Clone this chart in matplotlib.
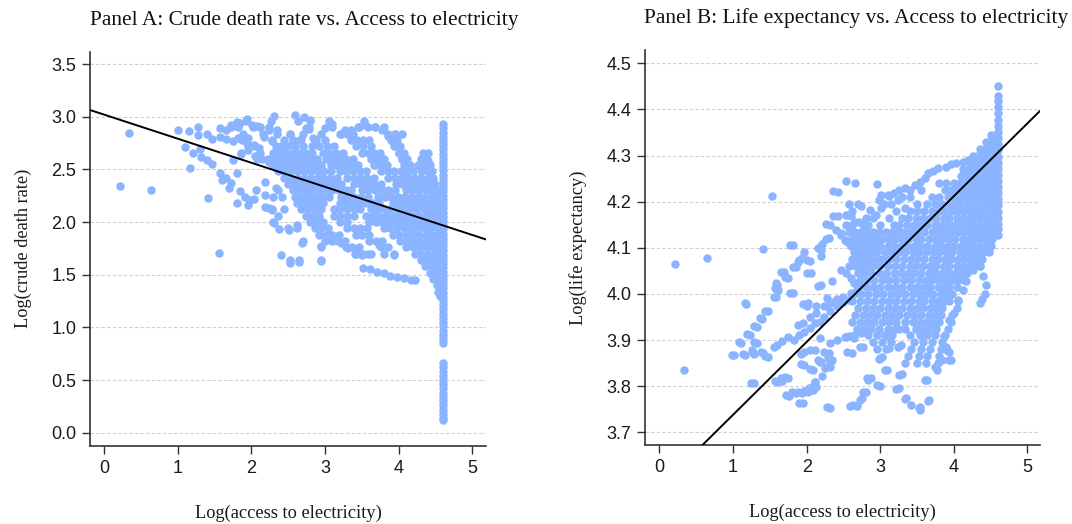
import matplotlib
matplotlib.use("Agg")
import matplotlib.pyplot as plt

# ---------------- DATA ----------------
# Panel A: log(access to electricity) vs log(crude death rate)
a_sparse = [
    (0.34, 2.85), (0.21, 2.34), (0.64, 2.30), (1.56, 1.71), (1.41, 2.23), (1.17, 2.51), (1.00, 2.87),
    (1.10, 2.71), (1.15, 2.86), (1.27, 2.90), (1.27, 2.83), (1.40, 2.84), (1.46, 2.79), (1.21, 2.66),
    (1.31, 2.69), (1.32, 2.62), (1.40, 2.59), (1.47, 2.55), (1.58, 2.89), (1.66, 2.87), (1.73, 2.92),
    (1.80, 2.95), (1.85, 2.94), (1.94, 2.98), (2.01, 2.92), (2.08, 2.91), (2.12, 2.90), (2.31, 3.01),
    (1.58, 2.81), (1.66, 2.79), (1.75, 2.77), (1.82, 2.80), (1.89, 2.84), (1.96, 2.80), (1.94, 2.75),
    (2.03, 2.73), (1.75, 2.59), (1.86, 2.65), (1.96, 2.68), (2.05, 2.63), (1.81, 2.47), (1.58, 2.47),
    (1.60, 2.40), (1.66, 2.42), (1.73, 2.37), (1.70, 2.32), (1.85, 2.29), (1.91, 2.24), (1.98, 2.21),
    (2.03, 2.22), (1.81, 2.18), (1.96, 2.16), (2.06, 2.30), (2.19, 2.38), (2.19, 2.26), (2.18, 2.14),
    (2.24, 2.13), (2.28, 2.11), (2.31, 1.99), (2.33, 2.32), (2.33, 2.51), (2.15, 2.60), (2.24, 2.57),
    (2.31, 2.63), (2.10, 2.70), (2.17, 2.81), (2.24, 2.87), (2.38, 1.93), (2.40, 1.69), (2.60, 3.02),
    (2.72, 3.00), (2.80, 2.97), (2.78, 2.88), (2.35, 2.87), (2.53, 2.84), (2.67, 2.79), (2.55, 2.74),
    (2.39, 2.69), (2.28, 2.77), (2.51, 1.92), (2.62, 1.97), (2.69, 1.80), (2.53, 1.61), (2.65, 1.62),
    (2.95, 1.63), (2.95, 1.77), (3.04, 1.89), (3.13, 1.83), (3.22, 1.80), (3.31, 1.75), (3.41, 1.70),
    (3.50, 1.69), (3.59, 1.70), (3.52, 1.56), (3.61, 1.55), (3.71, 1.53), (3.80, 1.52), (3.89, 1.49),
    (3.98, 1.48), (4.08, 1.47), (4.17, 1.45), (4.22, 1.45), (3.73, 1.78), (3.80, 1.70), (3.94, 1.69),
    (3.20, 2.84), (3.27, 2.87), (3.36, 2.87), (3.45, 2.90), (3.55, 2.92), (3.68, 2.90), (3.78, 2.87),
    (3.85, 2.82), (3.91, 2.77), (3.96, 2.73), (4.01, 2.66), (4.05, 2.60), (4.10, 2.54), (4.14, 2.48),
    (3.95, 2.84), (3.06, 2.92), (3.00, 2.89), (3.10, 2.93), (2.74, 2.89), (2.84, 2.80), (4.35, 2.63),
    (4.37, 2.55), (4.31, 2.54), (4.42, 2.46), (4.44, 2.36), (4.47, 2.27), (4.49, 2.18), (4.51, 2.08),
    (4.32, 2.60), (4.40, 2.58),
]
a_core_rows = [
    (2.96, [1.93, 2.27, 2.63, 2.80, 3.05, 3.53]),
    (2.90, [1.73, 1.82, 2.02, 2.12, 2.24, 2.78, 3.10, 3.46, 3.58, 3.68, 3.80]),
    (2.84, [2.16, 2.35, 2.53, 2.70, 2.95, 3.22, 3.30, 3.38, 3.86, 3.95, 4.04]),
    (2.78, [1.88, 2.28, 2.44, 2.56, 2.66, 2.88, 3.00, 3.35, 3.44, 3.52, 3.60, 3.90, 3.98]),
    (2.72, [1.96, 2.05, 2.33, 2.41, 2.50, 2.60, 2.70, 2.82, 2.92, 3.03, 3.12, 3.42, 3.52, 3.62, 3.94, 4.02]),
    (2.66, [1.86, 2.12, 2.30, 2.38, 2.47, 2.56, 2.65, 2.74, 2.83, 2.97, 3.06, 3.15, 3.24, 3.50, 3.58,
            3.67, 3.75, 4.00, 4.08, 4.33, 4.40]),
    (2.60, [2.08, 2.22, 2.34, 2.43, 2.52, 2.61, 2.70, 2.80, 2.89, 3.01, 3.10, 3.19, 3.29, 3.38, 3.62,
            3.71, 3.80, 4.04, 4.12, 4.30, 4.38]),
    (2.54, [2.30, 2.40, 2.49, 2.58, 2.67, 2.76, 2.85, 2.95, 3.08, 3.17, 3.26, 3.35, 3.45, 3.66, 3.75,
            3.84, 4.08, 4.16, 4.26, 4.34, 4.42]),
    (2.48, [2.36, 2.45, 2.54, 2.63, 2.72, 2.81, 2.90, 2.99, 3.08, 3.20, 3.29, 3.38, 3.47, 3.56, 3.76,
            3.85, 3.94, 4.03, 4.12, 4.20, 4.30, 4.38, 4.46]),
    (2.42, [2.44, 2.53, 2.62, 2.71, 2.80, 2.89, 2.98, 3.07, 3.16, 3.30, 3.39, 3.48, 3.57, 3.66, 3.86,
            3.95, 4.04, 4.13, 4.22, 4.31, 4.40, 4.47]),
    (2.36, [2.50, 2.59, 2.68, 2.77, 2.86, 2.95, 3.04, 3.13, 3.22, 3.40, 3.49, 3.58, 3.67, 3.76, 3.96,
            4.05, 4.14, 4.23, 4.32, 4.41, 4.49]),
    (2.30, [2.36, 2.56, 2.65, 2.74, 2.83, 2.92, 3.01, 3.10, 3.19, 3.28, 3.36, 3.50, 3.59, 3.68, 3.77,
            3.86, 3.95, 4.10, 4.19, 4.28, 4.37, 4.46, 4.52]),
    (2.24, [2.30, 2.42, 2.60, 2.69, 2.78, 2.87, 2.96, 3.05, 3.22, 3.31, 3.40, 3.49, 3.58, 3.72, 3.81,
            3.90, 3.99, 4.08, 4.17, 4.26, 4.35, 4.44, 4.52]),
    (2.18, [2.62, 2.71, 2.80, 2.89, 2.98, 3.20, 3.29, 3.38, 3.47, 3.56, 3.65, 3.74, 3.92, 4.01, 4.10,
            4.19, 4.28, 4.37, 4.46, 4.53]),
    (2.12, [2.28, 2.44, 2.68, 2.77, 2.86, 2.94, 3.12, 3.21, 3.30, 3.39, 3.48, 3.62, 3.71, 3.80, 3.89,
            3.98, 4.07, 4.16, 4.25, 4.34, 4.43, 4.52]),
    (2.06, [2.36, 2.74, 2.83, 2.92, 3.12, 3.21, 3.30, 3.39, 3.56, 3.65, 3.74, 3.83, 3.92, 4.01, 4.10,
            4.19, 4.28, 4.37, 4.46, 4.53]),
    (2.00, [2.30, 2.80, 2.89, 2.98, 3.20, 3.30, 3.60, 3.69, 3.78, 3.87, 3.96, 4.05, 4.14, 4.23, 4.32,
            4.41, 4.50]),
    (1.94, [2.50, 2.62, 2.86, 2.95, 3.04, 3.30, 3.39, 3.48, 3.57, 3.80, 3.89, 3.98, 4.07, 4.16, 4.25,
            4.34, 4.43, 4.52]),
    (1.88, [2.92, 3.01, 3.10, 3.19, 3.42, 3.51, 3.60, 3.92, 4.01, 4.10, 4.19, 4.28, 4.37, 4.46, 4.53]),
    (1.82, [2.70, 3.00, 3.09, 3.18, 3.27, 3.60, 3.69, 3.78, 4.02, 4.11, 4.20, 4.29, 4.38, 4.47, 4.53]),
    (1.76, [2.95, 3.28, 3.37, 3.46, 3.76, 3.85, 4.10, 4.19, 4.28, 4.37, 4.46, 4.53]),
    (1.70, [3.42, 3.52, 3.62, 3.94, 4.22, 4.31, 4.40, 4.49, 4.54]),
    (1.64, [2.53, 2.65, 2.95, 4.30, 4.39, 4.47, 4.54]),
    (1.58, [4.36, 4.44, 4.51, 4.56]),
    (1.52, [4.42, 4.49, 4.56]),
    (1.46, [4.47, 4.53, 4.57]),
    (1.40, [4.52, 4.57]),
    (1.34, [4.54, 4.58]),
    (1.30, [4.56]),
]
a_column_x = 4.605
a_column_y = [2.93, 2.89, 2.85, 2.81, 2.77, 2.73, 2.69, 2.65, 2.61, 2.57, 2.53, 2.49, 2.45, 2.41,
              2.37, 2.33, 2.29, 2.25, 2.21, 2.17, 2.13, 2.09, 2.05, 2.01, 1.97, 1.93, 1.89, 1.85,
              1.81, 1.77, 1.73, 1.69, 1.65, 1.61, 1.57, 1.53, 1.49, 1.45, 1.41, 1.37, 1.33, 1.29,
              1.25, 1.21, 1.17, 1.13, 1.09, 1.05, 1.01, 0.97, 0.93, 0.89, 0.85,
              0.66, 0.62, 0.58, 0.54, 0.50, 0.46, 0.42, 0.38, 0.34, 0.30, 0.26, 0.22, 0.18, 0.14, 0.12]
a_fit = (3.02, -0.2285)   # intercept, slope

# Panel B: log(access to electricity) vs log(life expectancy)
b_sparse = [
    (0.21, 4.065), (0.64, 4.079), (0.33, 3.835), (1.53, 4.212), (1.40, 4.098), (1.78, 4.107),
    (0.99, 3.868), (1.08, 3.895), (1.16, 3.980), (1.14, 3.870), (1.19, 3.913), (1.26, 3.879),
    (1.27, 3.871), (1.29, 3.895), (1.25, 3.806), (1.29, 3.931), (1.37, 3.947), (1.44, 3.963),
    (1.38, 3.875), (1.44, 3.866), (1.55, 3.886), (1.57, 3.811), (1.65, 3.818), (1.71, 3.820),
    (1.72, 3.781), (1.80, 3.787), (1.88, 3.787), (1.90, 3.764), (1.96, 3.790), (2.03, 3.795),
    (2.09, 3.800), (2.12, 3.808), (2.27, 3.754), (1.55, 3.994), (1.57, 4.012), (1.58, 4.023),
    (1.60, 4.008), (1.65, 4.048), (1.71, 4.036), (1.77, 4.001), (1.81, 4.059), (1.88, 4.070),
    (1.94, 4.079), (2.00, 4.074), (2.00, 4.046), (1.95, 3.978), (2.01, 3.973), (2.15, 4.017),
    (1.92, 3.870), (1.92, 3.848), (2.04, 3.879), (2.04, 3.837), (2.15, 3.856), (2.21, 3.822),
    (2.23, 3.875), (2.25, 3.839), (2.29, 3.861), (2.32, 3.850), (2.15, 4.099), (2.21, 4.108),
    (2.26, 4.119), (2.26, 4.152), (2.36, 4.169), (2.40, 4.139), (2.47, 4.132), (2.52, 4.117),
    (2.36, 4.223), (2.54, 4.246), (2.66, 4.241), (2.54, 4.171), (2.54, 4.150), (2.66, 4.157),
    (2.70, 4.195), (2.95, 4.238), (2.86, 4.182), (2.94, 4.171), (2.98, 4.204), (3.01, 4.186),
    (3.12, 4.212), (3.24, 4.204), (3.33, 4.186), (3.01, 4.215), (3.10, 4.215), (3.19, 4.218),
    (3.26, 4.225), (3.33, 4.229), (3.40, 4.225), (3.47, 4.236), (3.54, 4.243), (3.61, 4.251),
    (3.65, 4.262), (3.72, 4.267), (3.79, 4.273), (3.89, 4.276), (3.96, 4.282), (4.03, 4.285),
    (4.12, 4.287), (4.19, 4.291), (2.55, 3.874), (2.52, 3.906), (2.58, 3.908), (2.76, 3.886),
    (2.63, 3.759), (2.75, 3.774), (2.81, 3.788), (2.84, 3.814), (2.87, 3.818), (3.00, 3.800),
    (3.00, 3.861), (3.03, 3.863), (3.09, 3.835), (3.12, 3.882), (3.25, 3.795), (3.28, 3.889),
    (3.29, 3.827), (3.35, 3.774), (3.42, 3.759), (3.54, 3.754), (3.66, 3.770), (3.61, 3.814),
    (3.75, 3.842), (3.79, 3.850), (3.84, 3.857), (3.93, 3.857), (3.93, 3.875), (3.96, 3.857),
    (3.91, 3.879), (3.86, 3.908), (3.93, 3.944), (4.00, 3.958), (4.05, 3.987), (4.12, 4.009),
    (4.17, 4.027), (4.26, 4.052), (4.33, 4.085), (4.35, 3.980), (4.38, 3.990), (4.42, 4.000),
    (4.44, 4.020), (4.40, 4.040), (4.36, 4.060), (2.42, 4.222), (2.74, 4.191), (2.43, 4.168),
    (2.32, 4.150), (2.30, 4.121), (2.20, 4.095), (2.20, 4.082), (2.60, 4.168), (2.60, 4.148),
    (2.71, 4.157), (2.69, 4.132), (2.46, 4.128), (2.53, 4.114), (2.57, 4.110), (1.82, 4.106),
    (1.97, 4.090), (1.90, 4.074), (1.86, 4.059), (2.04, 4.072), (1.69, 4.048), (1.75, 4.034),
    (2.06, 4.046), (1.60, 4.020), (1.61, 4.009), (1.59, 3.993), (1.82, 4.001), (2.20, 4.020),
    (2.34, 4.027), (2.46, 4.052), (2.53, 4.045), (2.60, 4.034), (2.64, 4.023), (1.18, 3.978),
    (1.47, 3.962), (1.39, 3.945), (1.32, 3.929), (1.23, 3.911), (1.11, 3.894), (1.32, 3.894),
    (1.01, 3.867), (1.16, 3.867), (1.29, 3.869), (1.41, 3.873), (1.47, 3.864), (1.28, 3.806),
    (1.60, 3.889), (1.67, 3.897), (1.75, 3.907), (1.83, 3.900), (1.90, 3.911), (1.97, 3.918),
    (2.04, 3.926), (2.11, 3.936), (2.18, 3.940), (2.23, 3.951), (2.32, 3.962), (2.41, 3.973),
    (2.50, 3.983), (2.57, 3.987), (1.88, 3.933), (1.95, 3.936), (2.04, 3.951), (2.13, 3.958),
    (2.23, 3.973), (2.32, 3.980), (2.41, 3.988), (2.50, 3.994), (2.60, 4.001), (2.69, 4.009),
    (2.76, 4.020), (2.02, 3.980), (2.13, 3.973), (2.27, 3.991), (2.39, 3.984), (2.18, 3.904),
    (2.32, 3.893), (2.41, 3.900), (2.53, 3.907), (2.64, 3.904), (2.74, 3.915), (1.97, 3.875),
    (2.11, 3.878), (2.18, 3.853), (2.30, 3.873), (2.34, 3.857), (2.32, 3.842), (1.97, 3.846),
    (2.09, 3.835), (2.20, 3.853), (1.60, 3.808), (1.67, 3.812), (1.75, 3.817), (1.76, 3.779),
    (1.85, 3.785), (1.94, 3.786), (2.02, 3.788), (2.09, 3.792), (2.13, 3.799), (2.11, 3.808),
    (1.95, 3.764), (2.32, 3.752), (2.69, 3.757), (2.62, 3.871), (2.73, 3.886), (2.98, 3.860),
    (3.07, 3.835), (3.26, 3.824), (2.82, 3.817), (2.77, 3.788), (2.96, 3.803), (3.21, 3.793),
    (2.59, 3.758), (2.73, 3.770), (3.33, 3.772), (3.52, 3.752), (3.54, 3.748), (3.65, 3.768),
    (3.63, 3.813), (3.77, 3.835), (3.89, 3.886), (3.12, 3.907), (3.26, 3.925), (3.24, 3.886),
]
b_core_rows = [
    (4.345, [4.50, 4.56]),
    (4.330, [4.44, 4.50, 4.56]),
    (4.315, [4.36, 4.42, 4.48, 4.54]),
    (4.300, [4.26, 4.32, 4.38, 4.44, 4.50, 4.56]),
    (4.285, [4.22, 4.28, 4.34, 4.40, 4.46, 4.52]),
    (4.270, [4.12, 4.20, 4.28, 4.36, 4.44, 4.52]),
    (4.255, [4.10, 4.18, 4.26, 4.34, 4.42, 4.50, 4.56]),
    (4.240, [3.80, 3.90, 4.00, 4.08, 4.16, 4.24, 4.32, 4.40, 4.48, 4.55]),
    (4.225, [3.56, 3.88, 3.96, 4.04, 4.12, 4.20, 4.28, 4.36, 4.44, 4.52]),
    (4.210, [3.30, 3.40, 3.70, 3.80, 3.92, 4.00, 4.08, 4.16, 4.24, 4.32, 4.40, 4.48, 4.55]),
    (4.195, [2.58, 3.05, 3.15, 3.50, 3.64, 3.74, 3.84, 3.94, 4.02, 4.10, 4.18, 4.26, 4.34, 4.42, 4.50]),
    (4.180, [2.62, 3.22, 3.40, 3.50, 3.60, 3.70, 3.80, 3.88, 3.98, 4.06, 4.14, 4.22, 4.30, 4.38,
             4.46, 4.54]),
    (4.165, [2.80, 2.90, 3.12, 3.30, 3.38, 3.48, 3.58, 3.68, 3.76, 3.86, 3.94, 4.04, 4.12, 4.20,
             4.28, 4.36, 4.44, 4.52]),
    (4.150, [2.62, 2.76, 2.84, 3.00, 3.18, 3.26, 3.36, 3.46, 3.54, 3.64, 3.74, 3.82, 3.92, 4.00,
             4.08, 4.18, 4.26, 4.34, 4.42, 4.50]),
    (4.135, [2.58, 2.66, 2.74, 2.82, 2.90, 2.98, 3.08, 3.16, 3.24, 3.32, 3.42, 3.50, 3.60, 3.70,
             3.78, 3.88, 3.96, 4.06, 4.14, 4.22, 4.30, 4.38, 4.46, 4.54]),
    (4.120, [2.62, 2.70, 2.78, 2.86, 2.94, 3.02, 3.12, 3.20, 3.30, 3.38, 3.48, 3.56, 3.66, 3.76,
             3.84, 3.94, 4.02, 4.12, 4.20, 4.28, 4.36, 4.44, 4.52]),
    (4.105, [2.60, 2.68, 2.76, 2.84, 2.92, 3.00, 3.10, 3.18, 3.28, 3.36, 3.46, 3.54, 3.64, 3.74,
             3.82, 3.92, 4.00, 4.10, 4.18, 4.26, 4.34, 4.42, 4.50]),
    (4.090, [2.64, 2.72, 2.80, 2.88, 2.96, 3.06, 3.16, 3.26, 3.34, 3.44, 3.52, 3.62, 3.72, 3.80,
             3.90, 3.98, 4.08, 4.16, 4.24, 4.32, 4.40, 4.48]),
    (4.075, [2.62, 2.70, 2.78, 2.86, 2.94, 3.02, 3.12, 3.22, 3.32, 3.42, 3.50, 3.60, 3.70, 3.78,
             3.88, 3.96, 4.06, 4.14, 4.22, 4.30, 4.38]),
    (4.060, [2.58, 2.66, 2.74, 2.82, 2.90, 3.00, 3.10, 3.20, 3.30, 3.40, 3.48, 3.58, 3.68, 3.76,
             3.86, 3.94, 4.04, 4.12, 4.20, 4.28, 4.36]),
    (4.045, [2.70, 2.78, 2.88, 2.98, 3.08, 3.18, 3.28, 3.38, 3.46, 3.56, 3.66, 3.74, 3.84, 3.92,
             4.02, 4.10, 4.18]),
    (4.030, [2.72, 2.82, 2.92, 3.02, 3.12, 3.22, 3.32, 3.42, 3.52, 3.62, 3.70, 3.80, 3.88, 3.98,
             4.06, 4.14]),
    (4.015, [2.70, 2.80, 2.90, 3.00, 3.10, 3.20, 3.30, 3.40, 3.50, 3.60, 3.68, 3.78, 3.86, 3.94, 4.04]),
    (4.000, [2.64, 2.74, 2.84, 2.94, 3.04, 3.14, 3.24, 3.34, 3.44, 3.54, 3.64, 3.72, 3.82, 3.90, 3.98]),
    (3.985, [2.62, 2.72, 2.82, 2.92, 3.02, 3.12, 3.22, 3.32, 3.42, 3.52, 3.60, 3.70, 3.78, 3.86,
             3.94, 4.06]),
    (3.970, [2.70, 2.80, 2.90, 3.00, 3.10, 3.20, 3.30, 3.40, 3.50, 3.58, 3.68, 3.76, 3.84, 4.04]),
    (3.955, [2.66, 2.76, 2.86, 2.96, 3.06, 3.16, 3.26, 3.36, 3.46, 3.56, 3.66, 3.74, 3.82, 3.98]),
    (3.940, [2.62, 2.72, 2.82, 2.92, 3.02, 3.12, 3.22, 3.34, 3.44, 3.52, 3.62, 3.72, 3.80, 3.96]),
    (3.925, [2.68, 2.78, 2.88, 2.98, 3.10, 3.20, 3.34, 3.48, 3.58, 3.68, 3.76, 3.92]),
    (3.910, [2.64, 2.84, 2.96, 3.06, 3.16, 3.40, 3.54, 3.64, 3.74, 3.88]),
    (3.895, [2.90, 3.02, 3.14, 3.46, 3.58, 3.70, 3.84]),
    (3.880, [2.96, 3.08, 3.42, 3.56, 3.68, 3.82]),
    (3.865, [3.38, 3.52, 3.64, 3.80]),
    (3.850, [3.34, 3.50, 3.62]),
]
b_column_x = 4.605
b_column_y = [4.450, 4.430, 4.418, 4.405, 4.392, 4.378, 4.365, 4.352, 4.338, 4.325, 4.312, 4.298,
              4.285, 4.272, 4.258, 4.245, 4.232, 4.218, 4.205, 4.192, 4.178, 4.165, 4.152, 4.140,
              4.128]
b_fit = (3.58, 0.158)     # intercept, slope

x_ticks = [0, 1, 2, 3, 4, 5]
a_yticks = [0.0, 0.5, 1.0, 1.5, 2.0, 2.5, 3.0, 3.5]
b_yticks = [3.7, 3.8, 3.9, 4.0, 4.1, 4.2, 4.3, 4.4, 4.5]

titles = ["Panel A: Crude death rate vs. Access to electricity",
          "Panel B: Life expectancy vs. Access to electricity"]
x_label = "Log(access to electricity)"
y_labels = ["Log(crude death rate)", "Log(life expectancy)"]


def collect(sparse, rows, col_x, col_y):
    xs = [p[0] for p in sparse]
    ys = [p[1] for p in sparse]
    for yv, row in rows:
        xs.extend(row)
        ys.extend([yv] * len(row))
    xs.extend([col_x] * len(col_y))
    ys.extend(col_y)
    return xs, ys


# ---------------- STYLE ----------------
DOT = "#8AB4FF"
SERIF = "Liberation Serif"
SANS = "Liberation Sans"

fig = plt.figure(figsize=(10.72, 5.24), dpi=100)
axA = fig.add_axes([0.0840, 0.1489, 0.3692, 0.7524])
axB = fig.add_axes([0.6018, 0.1508, 0.3683, 0.7538])

panels = [
    (axA, collect(a_sparse, a_core_rows, a_column_x, a_column_y), a_fit,
     (-0.19, 5.185), (-0.126, 3.617), a_yticks),
    (axB, collect(b_sparse, b_core_rows, b_column_x, b_column_y), b_fit,
     (-0.195, 5.17), (3.6725, 4.529), b_yticks),
]

for i, (ax, (xs, ys), fit, xl, yl, yt) in enumerate(panels):
    ax.set_axisbelow(True)
    ax.scatter(xs, ys, s=37, c=DOT, linewidths=0, zorder=2)
    ax.axline((0, fit[0]), slope=fit[1], color="black", lw=1.4, zorder=3)
    ax.set_xlim(*xl)
    ax.set_ylim(*yl)
    ax.set_xticks(x_ticks)
    ax.set_yticks(yt)
    ax.set_xticklabels([str(t) for t in x_ticks], fontfamily=SANS, fontsize=13, color="#1a1a1a")
    ax.set_yticklabels(["{:.1f}".format(t) for t in yt], fontfamily=SANS, fontsize=13, color="#1a1a1a")
    ax.grid(axis="y", color="#cfcfcf", lw=0.8, linestyle=(0, (3, 2)))
    ax.grid(axis="x", visible=False)
    for s in ["top", "right"]:
        ax.spines[s].set_visible(False)
    for s in ["left", "bottom"]:
        ax.spines[s].set_color("#333333")
        ax.spines[s].set_linewidth(1.2)
    ax.tick_params(direction="out", length=5.8, width=1, color="#333333", pad=4)
    ax.set_xlabel(x_label, fontfamily=SERIF, fontsize=13.2, color="#1a1a1a", labelpad=20)
    ax.set_ylabel(y_labels[i], fontfamily=SERIF, fontsize=13.2, color="#1a1a1a", labelpad=14)

fig.text(0.2839, 1 - 21 / 524, titles[0], ha="center", va="center",
         fontfamily=SERIF, fontsize=15.4, color="#111111")
fig.text(0.7990, 1 - 18.3 / 524, titles[1], ha="center", va="center",
         fontfamily=SERIF, fontsize=15.4, color="#111111")

fig.savefig("out.png", dpi=100, facecolor="white")
